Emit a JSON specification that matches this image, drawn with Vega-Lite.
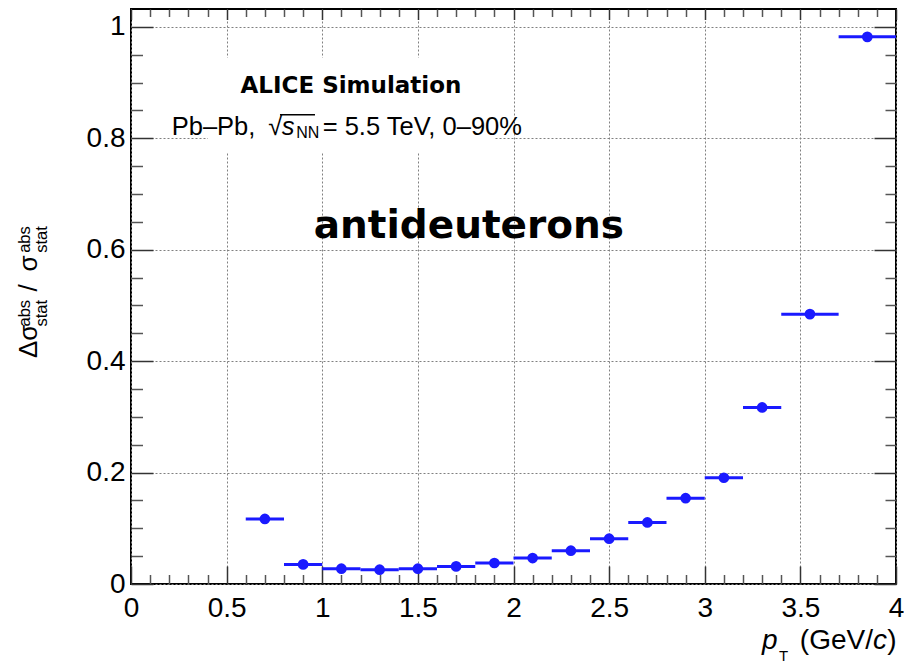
{
  "$schema": "https://vega.github.io/schema/vega-lite/v6.json",
  "width": 765,
  "height": 575,
  "autosize": {"type": "none"},
  "padding": {"left": 131, "top": 9, "right": 8, "bottom": 80},
  "background": "white",
  "config": {
    "view": {"stroke": "black", "strokeWidth": 2},
    "font": "Liberation Sans",
    "text": {"font": "Liberation Sans", "color": "black", "baseline": "alphabetic"}
  },
  "datasets": {
    "bins": [
      {"pt": 0.7, "pt_lo": 0.6, "pt_hi": 0.8, "ratio": 0.1167},
      {"pt": 0.9, "pt_lo": 0.8, "pt_hi": 1.0, "ratio": 0.0352},
      {"pt": 1.1, "pt_lo": 1.0, "pt_hi": 1.2, "ratio": 0.0274},
      {"pt": 1.3, "pt_lo": 1.2, "pt_hi": 1.4, "ratio": 0.0256},
      {"pt": 1.5, "pt_lo": 1.4, "pt_hi": 1.6, "ratio": 0.0274},
      {"pt": 1.7, "pt_lo": 1.6, "pt_hi": 1.8, "ratio": 0.0316},
      {"pt": 1.9, "pt_lo": 1.8, "pt_hi": 2.0, "ratio": 0.0377},
      {"pt": 2.1, "pt_lo": 2.0, "pt_hi": 2.2, "ratio": 0.0466},
      {"pt": 2.3, "pt_lo": 2.2, "pt_hi": 2.4, "ratio": 0.0597},
      {"pt": 2.5, "pt_lo": 2.4, "pt_hi": 2.6, "ratio": 0.0813},
      {"pt": 2.7, "pt_lo": 2.6, "pt_hi": 2.8, "ratio": 0.1105},
      {"pt": 2.9, "pt_lo": 2.8, "pt_hi": 3.0, "ratio": 0.154},
      {"pt": 3.1, "pt_lo": 3.0, "pt_hi": 3.2, "ratio": 0.1907},
      {"pt": 3.3, "pt_lo": 3.2, "pt_hi": 3.4, "ratio": 0.3168},
      {"pt": 3.55, "pt_lo": 3.4, "pt_hi": 3.7, "ratio": 0.4843},
      {"pt": 3.85, "pt_lo": 3.7, "pt_hi": 4.0, "ratio": 0.982}
    ],
    "one": [{}]
  },
  "resolve": {"axis": {"x": "independent", "y": "independent"}},
  "layer": [
    {
      "data": {"name": "bins"},
      "mark": {"type": "rule", "color": "#1a1aff", "strokeWidth": 3},
      "encoding": {
        "x": {
          "field": "pt_lo", "type": "quantitative",
          "scale": {"domain": [0, 4], "nice": false, "zero": false},
          "axis": {
            "orient": "bottom", "values": [0, 0.5, 1, 1.5, 2, 2.5, 3, 3.5, 4], "format": "~g",
            "labelFont": "Liberation Sans", "labelFontSize": 28, "labelColor": "black", "labelPadding": 10,
            "labelFlush": false, "labelOverlap": false,
            "ticks": false, "tickSize": 0, "domain": false,
            "grid": true, "gridColor": "#808080", "gridDash": [2, 2], "gridWidth": 1, "title": null
          }
        },
        "x2": {"field": "pt_hi"},
        "y": {
          "field": "ratio", "type": "quantitative",
          "scale": {"domain": [0, 1.032], "nice": false, "zero": false},
          "axis": {
            "orient": "left", "values": [0, 0.2, 0.4, 0.6, 0.8, 1], "format": "~g",
            "labelFont": "Liberation Sans", "labelFontSize": 28, "labelColor": "black", "labelPadding": 6,
            "labelFlush": false, "labelOverlap": false,
            "ticks": false, "tickSize": 0, "domain": false,
            "grid": true, "gridColor": "#808080", "gridDash": [2, 2], "gridWidth": 1, "title": null
          }
        }
      }
    },
    {
      "data": {"name": "bins"},
      "mark": {"type": "point", "filled": true, "color": "#1a1aff", "size": 115, "opacity": 1},
      "encoding": {
        "x": {
          "field": "pt", "type": "quantitative",
          "scale": {"domain": [0, 4], "nice": false, "zero": false},
          "axis": {"orient": "bottom", "values": [0, 0.5, 1, 1.5, 2, 2.5, 3, 3.5, 4], "labels": false, "grid": false, "domain": false, "ticks": true, "tickSize": -18, "tickColor": "#333333", "tickWidth": 1.5, "title": null}
        },
        "y": {
          "field": "ratio", "type": "quantitative",
          "scale": {"domain": [0, 1.032], "nice": false, "zero": false},
          "axis": {"orient": "left", "values": [0, 0.2, 0.4, 0.6, 0.8, 1], "labels": false, "grid": false, "domain": false, "ticks": true, "tickSize": -22, "tickColor": "#333333", "tickWidth": 1.5, "title": null}
        }
      }
    },
    {
      "data": {"name": "one"},
      "mark": {"type": "rect", "fill": "white", "stroke": null},
      "encoding": {
        "x": {
          "datum": 0.4026, "type": "quantitative",
          "scale": {"domain": [0, 4], "nice": false, "zero": false},
          "axis": {"orient": "bottom", "values": [0.1,0.2,0.3,0.4,0.6,0.7,0.8,0.9,1.1,1.2,1.3,1.4,1.6,1.7,1.8,1.9,2.1,2.2,2.3,2.4,2.6,2.7,2.8,2.9,3.1,3.2,3.3,3.4,3.6,3.7,3.8,3.9], "labels": false, "grid": false, "domain": false, "ticks": true, "tickSize": -9.5, "tickColor": "#555555", "tickWidth": 1.5, "title": null}
        },
        "x2": {"datum": 1.903},
        "y": {
          "datum": 0.774, "type": "quantitative",
          "scale": {"domain": [0, 1.032], "nice": false, "zero": false},
          "axis": {"orient": "left", "values": [0.05,0.1,0.15,0.25,0.3,0.35,0.45,0.5,0.55,0.65,0.7,0.75,0.85,0.9,0.95], "labels": false, "grid": false, "domain": false, "ticks": true, "tickSize": -11.5, "tickColor": "#555555", "tickWidth": 1.5, "title": null}
        },
        "y2": {"datum": 0.9446}
      }
    },
    {
      "data": {"name": "one"},
      "mark": {"type": "text", "text": "ALICE Simulation", "font": "DejaVu Sans", "fontWeight": "bold", "fontSize": 23, "align": "center"},
      "encoding": {
        "x": {
          "datum": 1.15, "type": "quantitative",
          "scale": {"domain": [0, 4], "nice": false, "zero": false},
          "axis": {"orient": "top", "values": [0, 0.5, 1, 1.5, 2, 2.5, 3, 3.5, 4], "labels": false, "grid": false, "domain": false, "ticks": true, "tickSize": -10.5, "tickColor": "#333333", "tickWidth": 1.5, "title": null}
        },
        "y": {
          "datum": 0.8812, "type": "quantitative",
          "scale": {"domain": [0, 1.032], "nice": false, "zero": false},
          "axis": {"orient": "right", "values": [0, 0.2, 0.4, 0.6, 0.8, 1], "labels": false, "grid": false, "domain": false, "ticks": true, "tickSize": -22, "tickColor": "#333333", "tickWidth": 1.5, "title": null}
        }
      }
    },
    {
      "data": {"name": "one"},
      "mark": {"type": "text", "text": "antideuterons", "font": "DejaVu Sans", "fontWeight": "bold", "fontSize": 39, "align": "center"},
      "encoding": {
        "x": {
          "datum": 1.7667, "type": "quantitative",
          "scale": {"domain": [0, 4], "nice": false, "zero": false},
          "axis": {"orient": "top", "values": [0.1,0.2,0.3,0.4,0.6,0.7,0.8,0.9,1.1,1.2,1.3,1.4,1.6,1.7,1.8,1.9,2.1,2.2,2.3,2.4,2.6,2.7,2.8,2.9,3.1,3.2,3.3,3.4,3.6,3.7,3.8,3.9], "labels": false, "grid": false, "domain": false, "ticks": true, "tickSize": -7.5, "tickColor": "#555555", "tickWidth": 1.5, "title": null}
        },
        "y": {
          "datum": 0.621, "type": "quantitative",
          "scale": {"domain": [0, 1.032], "nice": false, "zero": false},
          "axis": {"orient": "right", "values": [0.05,0.1,0.15,0.25,0.3,0.35,0.45,0.5,0.55,0.65,0.7,0.75,0.85,0.9,0.95], "labels": false, "grid": false, "domain": false, "ticks": true, "tickSize": -11, "tickColor": "#555555", "tickWidth": 1.5, "title": null}
        }
      }
    },
    {
      "data": {"name": "one"},
      "mark": {"type": "text", "text": "Pb–Pb,", "fontSize": 25.5, "align": "left"},
      "encoding": {"x": {"datum": 0.2128, "type": "quantitative", "axis": null, "scale": {"domain": [0, 4], "nice": false, "zero": false}}, "y": {"datum": 0.8064, "type": "quantitative", "axis": null, "scale": {"domain": [0, 1.032], "nice": false, "zero": false}}}
    },
    {
      "data": {"name": "one"},
      "mark": {"type": "text", "text": "√", "fontSize": 25.5, "align": "left", "dx": 96.6},
      "encoding": {"x": {"datum": 0.2128, "type": "quantitative", "axis": null, "scale": {"domain": [0, 4], "nice": false, "zero": false}}, "y": {"datum": 0.8064, "type": "quantitative", "axis": null, "scale": {"domain": [0, 1.032], "nice": false, "zero": false}}}
    },
    {
      "data": {"name": "one"},
      "mark": {"type": "text", "text": "s", "fontSize": 25.5, "fontStyle": "italic", "align": "left", "dx": 110},
      "encoding": {"x": {"datum": 0.2128, "type": "quantitative", "axis": null, "scale": {"domain": [0, 4], "nice": false, "zero": false}}, "y": {"datum": 0.8064, "type": "quantitative", "axis": null, "scale": {"domain": [0, 1.032], "nice": false, "zero": false}}}
    },
    {
      "data": {"name": "one"},
      "mark": {"type": "text", "text": "NN", "fontSize": 16, "align": "left", "dx": 124.5, "dy": 3.5},
      "encoding": {"x": {"datum": 0.2128, "type": "quantitative", "axis": null, "scale": {"domain": [0, 4], "nice": false, "zero": false}}, "y": {"datum": 0.8064, "type": "quantitative", "axis": null, "scale": {"domain": [0, 1.032], "nice": false, "zero": false}}}
    },
    {
      "data": {"name": "one"},
      "mark": {"type": "text", "text": "= 5.5 TeV, 0–90%", "fontSize": 25.5, "align": "left", "dx": 151},
      "encoding": {"x": {"datum": 0.2128, "type": "quantitative", "axis": null, "scale": {"domain": [0, 4], "nice": false, "zero": false}}, "y": {"datum": 0.8064, "type": "quantitative", "axis": null, "scale": {"domain": [0, 1.032], "nice": false, "zero": false}}}
    },
    {
      "data": {"name": "one"},
      "mark": {"type": "rule", "color": "black", "strokeWidth": 1.5},
      "encoding": {"x": {"datum": 0.779, "type": "quantitative", "axis": null, "scale": {"domain": [0, 4], "nice": false, "zero": false}}, "x2": {"datum": 0.962}, "y": {"datum": 0.842, "type": "quantitative", "axis": null, "scale": {"domain": [0, 1.032], "nice": false, "zero": false}}}
    },
    {
      "data": {"name": "one"},
      "mark": {"type": "text", "text": ")", "fontSize": 28, "align": "right", "dx": 0.5, "dy": 65},
      "encoding": {"x": {"datum": 4, "type": "quantitative", "axis": null, "scale": {"domain": [0, 4], "nice": false, "zero": false}}, "y": {"datum": 0, "type": "quantitative", "axis": null, "scale": {"domain": [0, 1.032], "nice": false, "zero": false}}}
    },
    {
      "data": {"name": "one"},
      "mark": {"type": "text", "text": "c", "fontSize": 28, "fontStyle": "italic", "align": "right", "dx": -9, "dy": 65},
      "encoding": {"x": {"datum": 4, "type": "quantitative", "axis": null, "scale": {"domain": [0, 4], "nice": false, "zero": false}}, "y": {"datum": 0, "type": "quantitative", "axis": null, "scale": {"domain": [0, 1.032], "nice": false, "zero": false}}}
    },
    {
      "data": {"name": "one"},
      "mark": {"type": "text", "text": "(GeV/", "fontSize": 28, "align": "right", "dx": -23, "dy": 65},
      "encoding": {"x": {"datum": 4, "type": "quantitative", "axis": null, "scale": {"domain": [0, 4], "nice": false, "zero": false}}, "y": {"datum": 0, "type": "quantitative", "axis": null, "scale": {"domain": [0, 1.032], "nice": false, "zero": false}}}
    },
    {
      "data": {"name": "one"},
      "mark": {"type": "text", "text": "p", "fontSize": 28, "fontStyle": "italic", "align": "left", "dx": -134, "dy": 65},
      "encoding": {"x": {"datum": 4, "type": "quantitative", "axis": null, "scale": {"domain": [0, 4], "nice": false, "zero": false}}, "y": {"datum": 0, "type": "quantitative", "axis": null, "scale": {"domain": [0, 1.032], "nice": false, "zero": false}}}
    },
    {
      "data": {"name": "one"},
      "mark": {"type": "text", "text": "T", "fontSize": 15, "align": "left", "dx": -117, "dy": 76.5},
      "encoding": {"x": {"datum": 4, "type": "quantitative", "axis": null, "scale": {"domain": [0, 4], "nice": false, "zero": false}}, "y": {"datum": 0, "type": "quantitative", "axis": null, "scale": {"domain": [0, 1.032], "nice": false, "zero": false}}}
    },
    {
      "data": {"name": "one"},
      "mark": {"type": "text", "text": "Δσ", "fontSize": 26, "angle": 270, "align": "left", "dx": 0, "dy": -94.3},
      "encoding": {"x": {"datum": 0, "type": "quantitative", "axis": null, "scale": {"domain": [0, 4], "nice": false, "zero": false}}, "y": {"datum": 0.4054, "type": "quantitative", "axis": null, "scale": {"domain": [0, 1.032], "nice": false, "zero": false}}}
    },
    {
      "data": {"name": "one"},
      "mark": {"type": "text", "text": "abs", "fontSize": 16.5, "angle": 270, "align": "left", "dx": 31.6, "dy": -101},
      "encoding": {"x": {"datum": 0, "type": "quantitative", "axis": null, "scale": {"domain": [0, 4], "nice": false, "zero": false}}, "y": {"datum": 0.4054, "type": "quantitative", "axis": null, "scale": {"domain": [0, 1.032], "nice": false, "zero": false}}}
    },
    {
      "data": {"name": "one"},
      "mark": {"type": "text", "text": "stat", "fontSize": 16.5, "angle": 270, "align": "left", "dx": 31.6, "dy": -84.3},
      "encoding": {"x": {"datum": 0, "type": "quantitative", "axis": null, "scale": {"domain": [0, 4], "nice": false, "zero": false}}, "y": {"datum": 0.4054, "type": "quantitative", "axis": null, "scale": {"domain": [0, 1.032], "nice": false, "zero": false}}}
    },
    {
      "data": {"name": "one"},
      "mark": {"type": "text", "text": "/", "fontSize": 26, "angle": 270, "align": "left", "dx": 66.6, "dy": -94.3},
      "encoding": {"x": {"datum": 0, "type": "quantitative", "axis": null, "scale": {"domain": [0, 4], "nice": false, "zero": false}}, "y": {"datum": 0.4054, "type": "quantitative", "axis": null, "scale": {"domain": [0, 1.032], "nice": false, "zero": false}}}
    },
    {
      "data": {"name": "one"},
      "mark": {"type": "text", "text": "σ", "fontSize": 26, "angle": 270, "align": "left", "dx": 86.6, "dy": -94.3},
      "encoding": {"x": {"datum": 0, "type": "quantitative", "axis": null, "scale": {"domain": [0, 4], "nice": false, "zero": false}}, "y": {"datum": 0.4054, "type": "quantitative", "axis": null, "scale": {"domain": [0, 1.032], "nice": false, "zero": false}}}
    },
    {
      "data": {"name": "one"},
      "mark": {"type": "text", "text": "abs", "fontSize": 16.5, "angle": 270, "align": "left", "dx": 105.3, "dy": -101},
      "encoding": {"x": {"datum": 0, "type": "quantitative", "axis": null, "scale": {"domain": [0, 4], "nice": false, "zero": false}}, "y": {"datum": 0.4054, "type": "quantitative", "axis": null, "scale": {"domain": [0, 1.032], "nice": false, "zero": false}}}
    },
    {
      "data": {"name": "one"},
      "mark": {"type": "text", "text": "stat", "fontSize": 16.5, "angle": 270, "align": "left", "dx": 105.3, "dy": -84.3},
      "encoding": {"x": {"datum": 0, "type": "quantitative", "axis": null, "scale": {"domain": [0, 4], "nice": false, "zero": false}}, "y": {"datum": 0.4054, "type": "quantitative", "axis": null, "scale": {"domain": [0, 1.032], "nice": false, "zero": false}}}
    }
  ]
}
